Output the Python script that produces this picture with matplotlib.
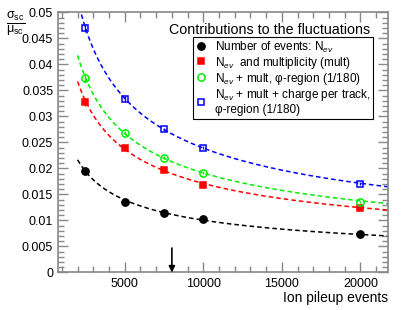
import matplotlib
matplotlib.use("Agg")
import matplotlib.pyplot as plt
from matplotlib.ticker import MultipleLocator
from matplotlib.lines import Line2D
import numpy as np

plt.rcParams['font.family'] = ['Liberation Sans', 'DejaVu Sans']
plt.rcParams['mathtext.fontset'] = 'custom'
plt.rcParams['mathtext.rm'] = 'Liberation Sans'
plt.rcParams['mathtext.it'] = 'Liberation Sans:italic'

# pileup events and sigma/mu for each contribution
events = [2500, 5000, 7500, 10000, 20000]
nev = [0.0196, 0.0136, 0.0115, 0.0102, 0.00735]
nev_err = [0.0004, 0.0004, 0.0002, 0.0002, 0.0002]
mult = [0.0328, 0.0240, 0.0197, 0.0169, 0.0124]
mult_err = [0.0007, 0.0004, 0.0003, 0.0003, 0.0002]
phi = [0.0373, 0.0268, 0.0221, 0.0192, 0.0136]
phi_err = [0.0006, 0.0004, 0.0003, 0.0003, 0.0002]
charge = [0.0470, 0.0334, 0.0275, 0.0240, 0.0171]
charge_err = [0.0008, 0.0005, 0.0003, 0.0003, 0.0003]

labels = ["Number of events: N$_{ev}$",
          "N$_{ev}$  and multiplicity (mult)",
          "N$_{ev}$ + mult, φ-region (1/180)",
          "N$_{ev}$ + mult + charge per track,\nφ-region (1/180)"]

arrow_x = 8000

fig = plt.figure(figsize=(4.07, 3.10), dpi=100)
ax = fig.add_axes([0.1425, 0.121, 0.8105, 0.839])

xs = np.array(events, dtype=float)
xfit = np.linspace(2000, 21750, 300)

series = [(nev, nev_err, 'black', 'o', 'black'),
          (mult, mult_err, 'red', 's', 'red'),
          (phi, phi_err, '#00ee00', 'o', 'none'),
          (charge, charge_err, 'blue', 's', 'none')]

handles = []
for (vals, errs, col, mk, fc), lab in zip(series, labels):
    # fit a/sqrt(x) + b
    A = np.vstack([1 / np.sqrt(xs), np.ones_like(xs)]).T
    coef = np.linalg.lstsq(A, np.array(vals), rcond=None)[0]
    ax.plot(xfit, coef[0] / np.sqrt(xfit) + coef[1], '--', color=col, lw=1.1,
            dashes=(3, 2))
    ms = 5.2 if mk == 'o' else 5
    ax.errorbar(events, vals, yerr=errs, fmt=mk, color=col, mfc=fc, mec=col,
                ms=ms, mew=1.1, elinewidth=1, capsize=0, zorder=5)
    handles.append(Line2D([], [], ls='none', marker=mk, color=col, mfc=fc,
                          mec=col, ms=ms, mew=1.1, label=lab))

ax.annotate('', xy=(arrow_x, 0), xytext=(arrow_x, 0.0047),
            arrowprops=dict(arrowstyle='-|>', color='black', lw=1.2,
                            mutation_scale=9, shrinkA=0, shrinkB=0))

ax.set_xlim(750, 21750)
ax.set_ylim(0, 0.05)
ax.xaxis.set_major_locator(MultipleLocator(5000))
ax.xaxis.set_minor_locator(MultipleLocator(1000))
ax.yaxis.set_major_locator(MultipleLocator(0.005))
ax.yaxis.set_minor_locator(MultipleLocator(0.001))
ax.yaxis.set_major_formatter(plt.FuncFormatter(lambda v, p: '0' if v == 0 else ('%g' % v)))
ax.tick_params(which='both', direction='in', top=True, right=True,
               color='#888888', labelsize=9, width=1)
ax.tick_params(which='major', length=7)
ax.tick_params(which='minor', length=4)
ax.tick_params(axis='x', pad=4)
for sp in ax.spines.values():
    sp.set_color('#888888')
    sp.set_linewidth(1.2)

ax.set_xlabel('Ion pileup events', fontsize=10, loc='right', labelpad=1)
fig.text(0.038, 0.925, r'$\frac{\mathrm{σ}_{\mathrm{sc}}}{\mathrm{μ}_{\mathrm{sc}}}$',
         fontsize=13, ha='center', va='center')

ax.text(0.64, 0.932, 'Contributions to the fluctuations', transform=ax.transAxes,
        fontsize=10.3, ha='center', va='center')
leg = ax.legend(handles=handles, loc='upper right', bbox_to_anchor=(0.955, 0.905),
                fontsize=8.5, frameon=True, fancybox=False, edgecolor='black',
                framealpha=1, handlelength=1.0, handletextpad=0.7, borderpad=0.2,
                borderaxespad=0, labelspacing=0.0)
leg.get_frame().set_linewidth(0.8)

fig.savefig('out.png', dpi=100)
